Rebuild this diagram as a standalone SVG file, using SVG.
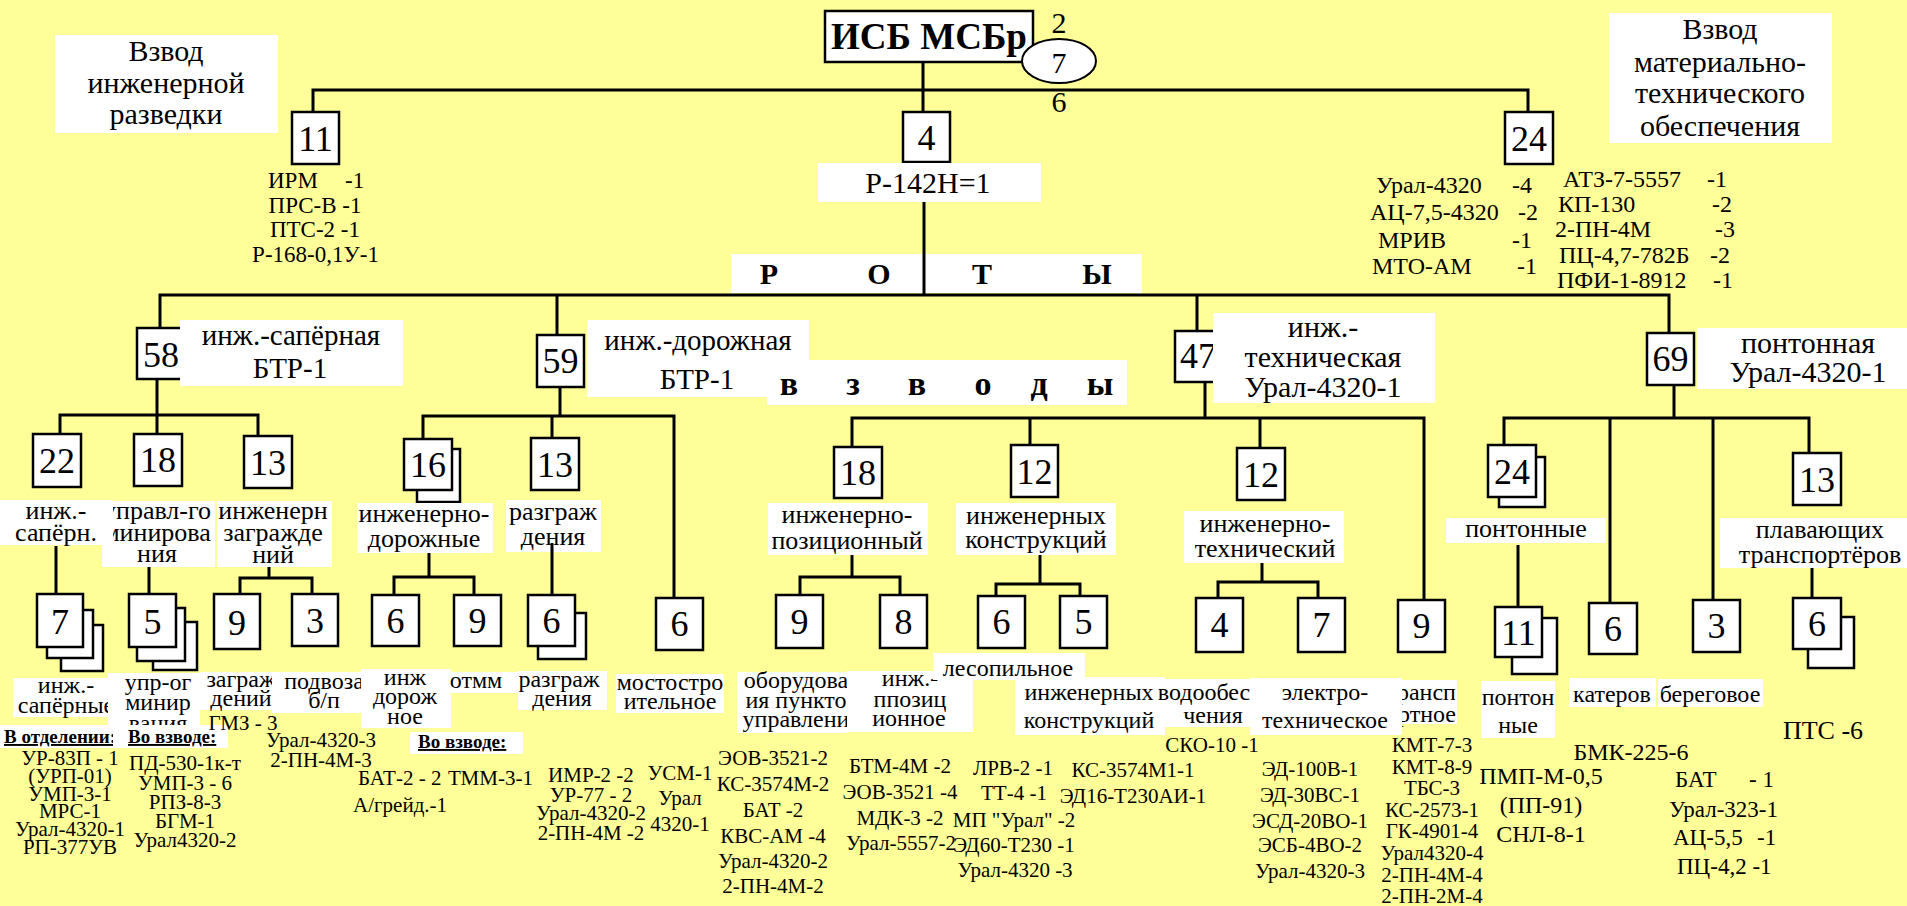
<svg xmlns="http://www.w3.org/2000/svg" width="1907" height="906" viewBox="0 0 1907 906" font-family="'Liberation Serif', 'Times New Roman', Tinos, 'DejaVu Serif', serif">
<style>
.bx{fill:#fff;stroke:#000;stroke-width:2.5}
.lb{fill:#fff}
.cn path{fill:none;stroke:#000;stroke-width:3}
svg, text, tspan{font-family:'Liberation Serif','Times New Roman',Tinos,'DejaVu Serif',serif}
text{fill:#000}
.n{font-size:36px;text-anchor:middle}
.h30{font-size:30px;text-anchor:middle}
.h29{font-size:29px;text-anchor:middle}
.l26{font-size:26px;text-anchor:middle}
.l24{font-size:24px;text-anchor:middle}
.e21{font-size:21px;text-anchor:middle}
.e23{font-size:23px;text-anchor:middle}
.e24{font-size:24px}
.s23{font-size:23px}
.s21{font-size:21px}
.b{font-weight:bold}
.u{font-size:19px;font-weight:bold;text-decoration:underline}
</style>
<rect x="0" y="0" width="1907" height="906" fill="#FFFF99"/>

<g id="root">
<rect class="bx" x="825" y="11" width="208" height="51"/>
<text x="929" y="49" class="b" font-size="37" text-anchor="middle">ИСБ МСБр</text>
<ellipse cx="1059" cy="61" rx="37" ry="22" fill="#fff" stroke="#000" stroke-width="2"/>
<text x="1059" y="73" class="h30">7</text>
<text x="1059" y="33" class="h30">2</text>
<text x="1059" y="112" class="h30">6</text>
</g>

<g id="n-razvedka">
<rect class="lb" x="55" y="35" width="223" height="98"/>
<text class="h30"><tspan x="166" y="61">Взвод</tspan><tspan x="166" y="93">инженерной</tspan><tspan x="166" y="124">разведки</tspan></text>
<rect class="bx" x="292" y="112" width="47" height="52"/>
<text x="315.5" y="151" class="n">11</text>
<text class="s23"><tspan x="268" y="188">ИРМ</tspan><tspan x="345" y="188">-1</tspan></text>
<text class="e23"><tspan x="315" y="213">ПРС-В -1</tspan><tspan x="315" y="237">ПТС-2 -1</tspan><tspan x="315.5" y="262">Р-168-0,1У-1</tspan></text>
</g>

<g id="n-upr">
<rect class="bx" x="903" y="112" width="47" height="50"/>
<text x="926.5" y="150" class="n">4</text>
<rect class="lb" x="818" y="163" width="223" height="39"/>
<text x="928" y="193" class="h30">Р-142Н=1</text>
</g>

<g id="n-mto">
<rect class="lb" x="1609" y="13" width="223" height="130"/>
<text class="h30"><tspan x="1720" y="39">Взвод</tspan><tspan x="1720" y="72">материально-</tspan><tspan x="1720" y="103">технического</tspan><tspan x="1720" y="136">обеспечения</tspan></text>
<rect class="bx" x="1505" y="112" width="48" height="52"/>
<text x="1529" y="151" class="n">24</text>
<text class="e24"><tspan x="1376" y="193">Урал-4320</tspan><tspan x="1512" y="193">-4</tspan><tspan x="1370" y="220">АЦ-7,5-4320</tspan><tspan x="1518" y="220">-2</tspan><tspan x="1378" y="248">МРИВ</tspan><tspan x="1512" y="248">-1</tspan><tspan x="1372" y="274">МТО-АМ</tspan><tspan x="1517" y="274">-1</tspan></text>
<text class="e24"><tspan x="1563" y="187">АТЗ-7-5557</tspan><tspan x="1707" y="187">-1</tspan><tspan x="1558" y="212">КП-130</tspan><tspan x="1712" y="212">-2</tspan><tspan x="1555" y="237">2-ПН-4М</tspan><tspan x="1715" y="237">-3</tspan><tspan x="1559" y="263">ПЦ-4,7-782Б</tspan><tspan x="1710" y="263">-2</tspan><tspan x="1557" y="288">ПФИ-1-8912</tspan><tspan x="1713" y="288">-1</tspan></text>
</g>

<g id="t-roty">
<rect class="lb" x="731" y="254" width="411" height="39"/>
<text class="h30 b"><tspan x="769" y="284">Р</tspan><tspan x="879" y="284">О</tspan><tspan x="982" y="284">Т</tspan><tspan x="1097" y="284">Ы</tspan></text>
</g>

<g id="n-58">
<rect class="bx" x="137" y="328" width="47" height="51"/>
<text x="161" y="367" class="n">58</text>
<rect class="lb" x="180" y="320" width="223" height="66"/>
<text class="h29"><tspan x="291" y="345">инж.-сапёрная</tspan><tspan x="290" y="378">БТР-1</tspan></text>
</g>
<g id="n-59">
<rect class="bx" x="537" y="335" width="47" height="52"/>
<text x="560.5" y="373" class="n">59</text>
<rect class="lb" x="587" y="320" width="222" height="77"/>
<text class="h29"><tspan x="698" y="350">инж.-дорожная</tspan><tspan x="697" y="389">БТР-1</tspan></text>
</g>
<g id="t-vzvody">
<rect class="lb" x="767" y="360" width="360" height="45"/>
<text class="b" font-size="34" text-anchor="middle"><tspan x="789" y="395">в</tspan><tspan x="853" y="395">з</tspan><tspan x="917" y="395">в</tspan><tspan x="983" y="395">о</tspan><tspan x="1039" y="395">д</tspan><tspan x="1100" y="395">ы</tspan></text>
</g>
<g id="n-47">
<rect class="bx" x="1175" y="331" width="47" height="51"/>
<text x="1198" y="368" class="n">47</text>
<rect class="lb" x="1213" y="313" width="222" height="90"/>
<text class="h30"><tspan x="1323" y="337">инж.-</tspan><tspan x="1323" y="367">техническая</tspan><tspan x="1323" y="397">Урал-4320-1</tspan></text>
</g>
<g id="n-69">
<rect class="bx" x="1647" y="333" width="47" height="52"/>
<text x="1670.5" y="371" class="n">69</text>
<rect class="lb" x="1697" y="328" width="210" height="61"/>
<text class="h30"><tspan x="1808" y="353">понтонная</tspan><tspan x="1808" y="382">Урал-4320-1</tspan></text>
</g>

<g id="n-18-minir">
<rect class="bx" x="134" y="434" width="48" height="52"/>
<text x="158" y="472" class="n">18</text>
<rect class="lb" x="102" y="501" width="113" height="66"/>
<text class="l26"><tspan x="157" y="519">управл-го</tspan><tspan x="157" y="541">минирова</tspan><tspan x="157" y="562">ния</tspan></text>
</g>
<g id="n-22-saper">
<rect class="bx" x="33" y="434" width="48" height="53"/>
<text x="57" y="473" class="n">22</text>
<rect class="lb" x="0" y="500" width="113" height="45"/>
<text class="l26"><tspan x="56" y="519">инж.-</tspan><tspan x="56" y="541">сапёрн.</tspan></text>
</g>
<g id="n-13-zagr">
<rect class="bx" x="244" y="436" width="48" height="52"/>
<text x="268" y="475" class="n">13</text>
<rect class="lb" x="217" y="501" width="115" height="66"/>
<text class="l26"><tspan x="273" y="519">инженерн</tspan><tspan x="273" y="541">загражде</tspan><tspan x="273" y="563">ний</tspan></text>
</g>
<g id="n-16-dor">
<rect class="bx" x="417" y="449" width="43" height="53"/>
<rect class="bx" x="404" y="439" width="48" height="51"/>
<text x="428" y="477" class="n">16</text>
<rect class="lb" x="357" y="503" width="136" height="50"/>
<text class="l26"><tspan x="424" y="522">инженерно-</tspan><tspan x="424" y="547">дорожные</tspan></text>
</g>
<g id="n-13-razgr">
<rect class="bx" x="531" y="438" width="48" height="52"/>
<text x="555" y="477" class="n">13</text>
<rect class="lb" x="506" y="500" width="95" height="52"/>
<text class="l26"><tspan x="553" y="520">разграж</tspan><tspan x="553" y="545">дения</tspan></text>
</g>
<g id="n-18-poz">
<rect class="bx" x="834" y="447" width="48" height="51"/>
<text x="858" y="485" class="n">18</text>
<rect class="lb" x="768" y="503" width="160" height="52"/>
<text class="l26"><tspan x="847" y="523">инженерно-</tspan><tspan x="847" y="549">позиционный</tspan></text>
</g>
<g id="n-12-konstr">
<rect class="bx" x="1011" y="445" width="47" height="52"/>
<text x="1034.5" y="484" class="n">12</text>
<rect class="lb" x="956" y="503" width="160" height="52"/>
<text class="l26"><tspan x="1036" y="524">инженерных</tspan><tspan x="1036" y="548">конструкций</tspan></text>
</g>
<g id="n-12-tech">
<rect class="bx" x="1237" y="448" width="48" height="52"/>
<text x="1261" y="487" class="n">12</text>
<rect class="lb" x="1184" y="511" width="160" height="52"/>
<text class="l26"><tspan x="1265" y="532">инженерно-</tspan><tspan x="1265" y="557">технический</tspan></text>
</g>
<g id="n-24-pont">
<rect class="bx" x="1499" y="457" width="46" height="50"/>
<rect class="bx" x="1488" y="445" width="48" height="52"/>
<text x="1512" y="484" class="n">24</text>
<rect class="lb" x="1446" y="518" width="160" height="25"/>
<text x="1526" y="537" class="l26">понтонные</text>
</g>
<g id="n-13-plav">
<rect class="bx" x="1793" y="453" width="48" height="52"/>
<text x="1817" y="492" class="n">13</text>
<rect class="lb" x="1720" y="518" width="187" height="50"/>
<text class="l26"><tspan x="1820" y="538">плавающих</tspan><tspan x="1820" y="563">транспортёров</tspan></text>
</g>

<g id="n-7-otd">
<rect class="bx" x="61" y="625" width="42" height="46"/>
<rect class="bx" x="47" y="610" width="46" height="48"/>
<rect class="bx" x="37" y="594" width="46" height="53"/>
<text x="60" y="634" class="n">7</text>
<rect class="lb" x="13" y="678" width="95" height="39"/>
<text class="l24"><tspan x="66" y="693">инж.-</tspan><tspan x="66" y="713">сапёрные</tspan></text>
<rect class="lb" x="0" y="725" width="113" height="23"/>
<text x="4" y="743" class="u">В отделении:</text>
<text class="e21"><tspan x="70" y="765">УР-83П - 1</tspan><tspan x="70" y="783">(УРП-01)</tspan><tspan x="70" y="801">УМП-3-1</tspan><tspan x="70" y="818">МРС-1</tspan><tspan x="70" y="836">Урал-4320-1</tspan><tspan x="70" y="854">РП-377УВ</tspan></text>
</g>
<g id="n-5-upr">
<rect class="bx" x="153" y="622" width="44" height="48"/>
<rect class="bx" x="137" y="608" width="48" height="53"/>
<rect class="bx" x="129" y="594" width="47" height="53"/>
<text x="152.5" y="634" class="n">5</text>
<rect class="lb" x="108" y="673" width="92" height="52"/>
<text class="l24"><tspan x="158" y="690">упр-ог</tspan><tspan x="158" y="710">минир</tspan><tspan x="158" y="731">вания</tspan></text>
<rect class="lb" x="113" y="725" width="115" height="23"/>
<text x="128" y="743" class="u">Во взводе:</text>
<text class="e21"><tspan x="185" y="770">ПД-530-1к-т</tspan><tspan x="185" y="790">УМП-3 - 6</tspan><tspan x="185" y="809">РПЗ-8-3</tspan><tspan x="185" y="828">БГМ-1</tspan><tspan x="185" y="847">Урал4320-2</tspan></text>
</g>
<g id="n-9-zagr">
<rect class="bx" x="214" y="594" width="46" height="55"/>
<text x="237" y="635" class="n">9</text>
<rect class="lb" x="200" y="672" width="72" height="38"/>
<text class="l24"><tspan x="241" y="687">заграж</tspan><tspan x="241" y="706">дений</tspan></text>
<text x="243" y="730" class="e21">ГМЗ - 3</text>
</g>
<g id="n-3-podv">
<rect class="bx" x="292" y="594" width="46" height="52"/>
<text x="315" y="633" class="n">3</text>
<rect class="lb" x="272" y="672" width="90" height="41"/>
<text class="l24"><tspan x="324" y="689">подвоза</tspan><tspan x="324" y="708">б/п</tspan></text>
<text class="e21"><tspan x="321" y="747">Урал-4320-3</tspan><tspan x="321" y="767">2-ПН-4М-3</tspan></text>
</g>
<g id="n-6-dor">
<rect class="bx" x="372" y="595" width="47" height="51"/>
<text x="395.5" y="633" class="n">6</text>
<rect class="lb" x="361" y="669" width="90" height="59"/>
<text class="l24"><tspan x="405" y="685">инж</tspan><tspan x="405" y="704">дорож</tspan><tspan x="405" y="724">ное</tspan></text>
<rect class="lb" x="410" y="732" width="113" height="22"/>
<text x="418" y="748" class="u">Во взводе:</text>
<text class="s21"><tspan x="358" y="785">БАТ-2 - 2</tspan><tspan x="353" y="812">А/грейд.-1</tspan></text>
</g>
<g id="n-6-razgr">
<rect class="bx" x="538" y="613" width="48" height="46"/>
<rect class="bx" x="528" y="595" width="47" height="51"/>
<text x="551.5" y="633" class="n">6</text>
<rect class="lb" x="518" y="671" width="89" height="39"/>
<text class="l24"><tspan x="559" y="687">разграж</tspan><tspan x="562" y="706">дения</tspan></text>
<text class="e21"><tspan x="591" y="782">ИМР-2 -2</tspan><tspan x="591" y="802">УР-77 - 2</tspan><tspan x="591" y="820">Урал-4320-2</tspan><tspan x="591" y="840">2-ПН-4М -2</tspan></text>
</g>
<g id="n-9-otmm">
<rect class="bx" x="454" y="595" width="47" height="51"/>
<text x="477.5" y="633" class="n">9</text>
<rect class="lb" x="451" y="672" width="68" height="21"/>
<text x="476" y="688" class="l24">отмм</text>
<text x="448" y="785" class="s21">ТММ-3-1</text>
</g>
<g id="n-6-most">
<rect class="bx" x="656" y="598" width="47" height="52"/>
<text x="679.5" y="636" class="n">6</text>
<rect class="lb" x="616" y="674" width="108" height="39"/>
<text class="l24"><tspan x="670" y="690">мостостро</tspan><tspan x="670" y="709">ительное</tspan></text>
<text class="e21"><tspan x="680" y="780">УСМ-1</tspan><tspan x="680" y="805">Урал</tspan><tspan x="680" y="831">4320-1</tspan></text>
</g>
<g id="n-9-obor">
<rect class="bx" x="776" y="595" width="47" height="53"/>
<text x="799.5" y="634" class="n">9</text>
<rect class="lb" x="737" y="672" width="110" height="61"/>
<text class="l24"><tspan x="796" y="688">оборудова</tspan><tspan x="796" y="708">ия пункто</tspan><tspan x="796" y="727">управлени</tspan></text>
<text class="e21"><tspan x="773" y="765">ЭОВ-3521-2</tspan><tspan x="773" y="791">КС-3574М-2</tspan><tspan x="773" y="817">БАТ  -2</tspan><tspan x="773" y="843">КВС-АМ -4</tspan><tspan x="773" y="868">Урал-4320-2</tspan><tspan x="773" y="893">2-ПН-4М-2</tspan></text>
</g>
<g id="n-8-ipoz">
<rect class="bx" x="880" y="595" width="47" height="53"/>
<text x="903.5" y="634" class="n">8</text>
<rect class="lb" x="847" y="671" width="126" height="61"/>
<text class="l24"><tspan x="910" y="686">инж.-</tspan><tspan x="910" y="707">ппозиц</tspan><tspan x="909" y="726">ионное</tspan></text>
<text class="e21"><tspan x="900" y="773">БТМ-4М -2</tspan><tspan x="900" y="799">ЭОВ-3521 -4</tspan><tspan x="900" y="825">МДК-3 -2</tspan><tspan x="901" y="850">Урал-5557-2</tspan></text>
</g>
<g id="n-6-les">
<rect class="bx" x="978" y="596" width="47" height="52"/>
<text x="1001.5" y="634" class="n">6</text>
<rect class="lb" x="933" y="653" width="152" height="27"/>
<text x="1008" y="676" class="l24">лесопильное</text>
<text class="e21"><tspan x="1013" y="775">ЛРВ-2 -1</tspan><tspan x="1014" y="800">ТТ-4 -1</tspan><tspan x="1014" y="827">МП "Урал" -2</tspan><tspan x="1014" y="852">ЭД60-Т230 -1</tspan><tspan x="1015" y="877">Урал-4320  -3</tspan></text>
</g>
<g id="n-5-konstr">
<rect class="bx" x="1060" y="596" width="47" height="52"/>
<text x="1083.5" y="634" class="n">5</text>
<rect class="lb" x="1015" y="677" width="150" height="58"/>
<text class="l24"><tspan x="1089" y="700">инженерных</tspan><tspan x="1089" y="728">конструкций</tspan></text>
<text class="e21"><tspan x="1133" y="777">КС-3574М1-1</tspan><tspan x="1133" y="803">ЭД16-Т230АИ-1</tspan></text>
</g>
<g id="n-4-vodo">
<rect class="bx" x="1196" y="598" width="47" height="54"/>
<text x="1219.5" y="637" class="n">4</text>
<rect class="lb" x="1165" y="679" width="85" height="48"/>
<text class="l24"><tspan x="1204" y="700">водообес</tspan><tspan x="1213" y="723">чения</tspan></text>
<text x="1212" y="752" class="e21">СКО-10 -1</text>
</g>
<g id="n-9-trans">
<rect class="bx" x="1398" y="600" width="47" height="52"/>
<text x="1421.5" y="638" class="n">9</text>
<rect class="lb" x="1402" y="680" width="55" height="44"/>
<text class="l24"><tspan x="1421" y="700">трансп</tspan><tspan x="1421" y="722">ортное</tspan></text>
<text class="e21"><tspan x="1432" y="752">КМТ-7-3</tspan><tspan x="1432" y="774">КМТ-8-9</tspan><tspan x="1432" y="795">ТБС-3</tspan><tspan x="1432" y="817">КС-2573-1</tspan><tspan x="1432" y="838">ГК-4901-4</tspan><tspan x="1432" y="860">Урал4320-4</tspan><tspan x="1432" y="882">2-ПН-4М-4</tspan><tspan x="1432" y="903">2-ПН-2М-4</tspan></text>
</g>
<g id="n-7-elektro">
<rect class="bx" x="1298" y="598" width="47" height="54"/>
<text x="1321.5" y="637" class="n">7</text>
<rect class="lb" x="1250" y="678" width="152" height="57"/>
<text class="l24"><tspan x="1325" y="700">электро-</tspan><tspan x="1325" y="728">техническое</tspan></text>
<text class="e21"><tspan x="1310" y="776">ЭД-100В-1</tspan><tspan x="1310" y="802">ЭД-30ВС-1</tspan><tspan x="1310" y="828">ЭСД-20ВО-1</tspan><tspan x="1310" y="852">ЭСБ-4ВО-2</tspan><tspan x="1310" y="878">Урал-4320-3</tspan></text>
</g>
<g id="n-11-pont">
<rect class="bx" x="1512" y="618" width="45" height="56"/>
<rect class="bx" x="1495" y="607" width="47" height="50"/>
<text x="1518.5" y="645" class="n">11</text>
<rect class="lb" x="1481" y="681" width="74" height="57"/>
<text class="l24"><tspan x="1518" y="705">понтон</tspan><tspan x="1518" y="733">ные</tspan></text>
<text class="l24"><tspan x="1541" y="784">ПМП-М-0,5</tspan><tspan x="1541" y="813">(ПП-91)</tspan><tspan x="1541" y="842">СНЛ-8-1</tspan></text>
</g>
<g id="n-6-kater">
<rect class="bx" x="1589" y="603" width="48" height="51"/>
<text x="1613" y="641" class="n">6</text>
<rect class="lb" x="1569" y="678" width="87" height="29"/>
<text x="1612" y="702" class="l24">катеров</text>
<text x="1631" y="760" class="l24">БМК-225-6</text>
</g>
<g id="n-3-bereg">
<rect class="bx" x="1693" y="600" width="47" height="52"/>
<text x="1716.5" y="638" class="n">3</text>
<rect class="lb" x="1658" y="679" width="105" height="28"/>
<text x="1710" y="702" class="l24">береговое</text>
<text font-size="23"><tspan x="1675" y="787">БАТ</tspan><tspan x="1749" y="787">- 1</tspan><tspan x="1669" y="817">Урал-323-1</tspan><tspan x="1673" y="845">АЦ-5,5</tspan><tspan x="1757" y="845">-1</tspan><tspan x="1677" y="874">ПЦ-4,2 -1</tspan></text>
</g>
<g id="n-6-pts">
<rect class="bx" x="1808" y="617" width="46" height="51"/>
<rect class="bx" x="1793" y="598" width="48" height="51"/>
<text x="1817" y="636" class="n">6</text>
<text x="1823" y="739" font-size="26" text-anchor="middle">ПТС -6</text>
</g>

<g id="connectors" class="cn">
<path d="M923 62V112"/>
<path d="M313 112V90H1528V112"/>
<path d="M924 202V295"/>
<path d="M160 328V295H1669V333"/>
<path d="M557 295V335"/>
<path d="M1197 295V331"/>
<path d="M157 379V415"/>
<path d="M60 434V415H258V436"/>
<path d="M157 415V434"/>
<path d="M56 546V594"/>
<path d="M149 567V594"/>
<path d="M269 567V578"/>
<path d="M240 594V578H312V594"/>
<path d="M560 387V416"/>
<path d="M423 439V416H674V598"/>
<path d="M552 416V438"/>
<path d="M429 553V577"/>
<path d="M394 595V577H474V595"/>
<path d="M552 543V595"/>
<path d="M1205 382V418"/>
<path d="M852 447V418H1424V600"/>
<path d="M1030 418V445"/>
<path d="M1260 418V448"/>
<path d="M852 555V577"/>
<path d="M800 595V577H900V595"/>
<path d="M1040 555V584"/>
<path d="M996 596V584H1080V596"/>
<path d="M1262 563V582"/>
<path d="M1218 598V582H1318V598"/>
<path d="M1674 385V418"/>
<path d="M1504 445V418H1809V453"/>
<path d="M1610 418V603"/>
<path d="M1713 418V600"/>
<path d="M1518 545V607"/>
<path d="M1812 568V598"/>
</g>
</svg>
